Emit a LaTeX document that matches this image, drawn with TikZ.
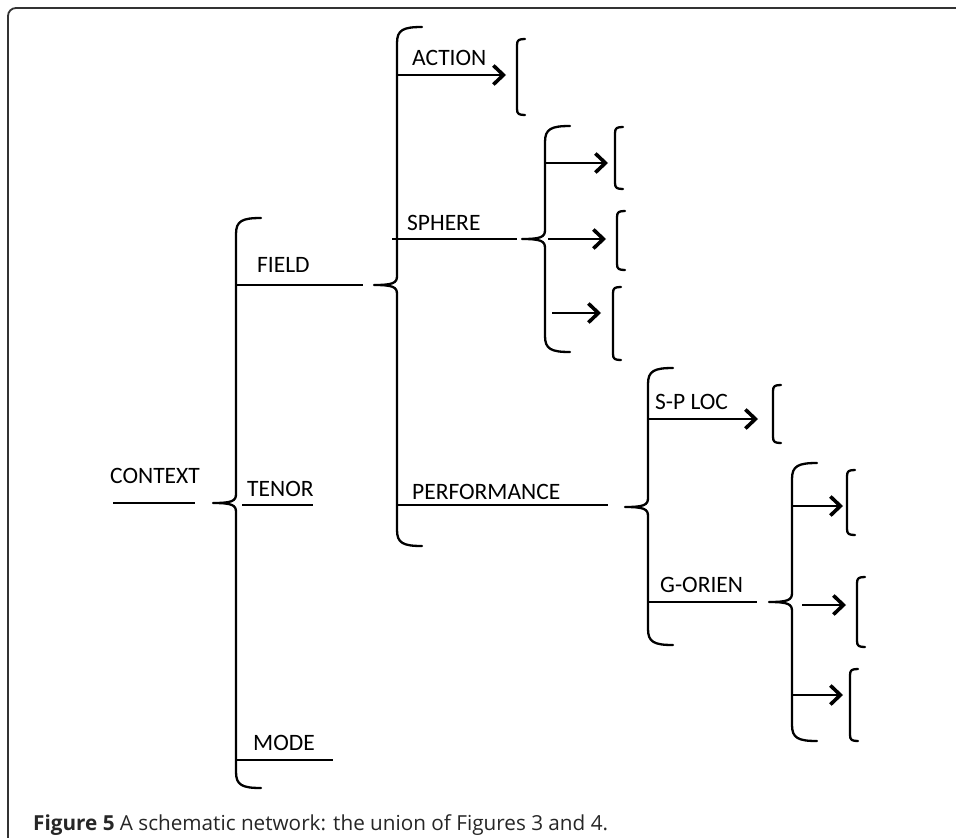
\documentclass[tikz,border=0pt]{standalone}
\usepackage{fontspec}
\setmainfont{Carlito}
\newfontfamily\capfont{Open Sans}
\usepackage{pgf,tikz}
\usetikzlibrary{arrows.meta}
\tikzset{
  brace/.style={line width=2.3pt,line cap=round,line join=round},
  link/.style={line width=2.1pt},
  arr/.style={link,-{Straight Barb[length=10pt,width=19pt,line width=3.6pt]}},
  lbl/.style={anchor=base west,inner sep=0pt,font=\fontsize{23.5}{26}\selectfont},
}
% curly brace: x, top, cusp, bottom
\newcommand{\curlybr}[4]{%
  \draw[brace] (#1+25,#2) .. controls (#1+6,#2) and (#1,#2+3) .. (#1,#2+16)
    -- (#1,#3-9) .. controls (#1,#3-2) and (#1-4,#3) .. (#1-23,#3)
    .. controls (#1-4,#3) and (#1,#3+2) .. (#1,#3+9)
    -- (#1,#4-16) .. controls (#1,#4-3) and (#1+6,#4) .. (#1+25,#4);}
% square bracket: x, top, bottom
\newcommand{\squarebr}[3]{%
  \draw[brace] (#1+8,#2) .. controls (#1+2,#2) and (#1,#2+1) .. (#1,#2+6)
    -- (#1,#3-6) .. controls (#1,#3-1) and (#1+2,#3) .. (#1+8,#3);}

\begin{document}
\begin{tikzpicture}[x=1pt,y=-1pt]
\useasboundingbox (0,0) rectangle (956,838);
\draw[line width=1.8pt,black!80,rounded corners=8pt] (8,850) -- (8,8) -- (970,8);

% context
\coordinate (ctxA) at (113,503);
\coordinate (ctxB) at (195,503);
\draw[link] (ctxA) -- (ctxB);
\node[lbl] (context) at (110,483) {CONTEXT};
\curlybr{236}{218}{503}{788}

\coordinate (fldA) at (236,285);
\coordinate (fldB) at (363,285);
\draw[link] (fldA) -- (fldB);
\node[lbl] (field) at (257,272) {FIELD};

\coordinate (tenA) at (242,505);
\coordinate (tenB) at (313,505);
\draw[link] (tenA) -- (tenB);
\node[lbl] (tenor) at (247,496) {TENOR};

\coordinate (modA) at (236,760);
\coordinate (modB) at (333,760);
\draw[link] (modA) -- (modB);
\node[lbl] (mode) at (253,750) {MODE};

% field
\curlybr{397}{27}{285}{546}
\coordinate (actA) at (397,75);
\coordinate (actB) at (506,75);
\draw[arr] (actA) -- (actB);
\node[lbl] (action) at (412,65) {ACTION};
\squarebr{517}{39}{115}

\coordinate (sphA) at (392,239);
\coordinate (sphB) at (517,239);
\draw[link] (sphA) -- (sphB);
\node[lbl] (sphere) at (407,230) {SPHERE};

\coordinate (perA) at (397,505);
\coordinate (perB) at (608,505);
\draw[link] (perA) -- (perB);
\node[lbl] (performance) at (412,499) {PERFORMANCE};

% sphere
\curlybr{545}{126}{239}{352}
\coordinate (s1A) at (545,163); \coordinate (s1B) at (608,163);
\coordinate (s2A) at (548,239); \coordinate (s2B) at (606,239);
\coordinate (s3A) at (552,313); \coordinate (s3B) at (601,313);
\draw[arr] (s1A) -- (s1B);
\draw[arr] (s2A) -- (s2B);
\draw[arr] (s3A) -- (s3B);
\squarebr{615}{127}{189}
\squarebr{617}{211}{270}
\squarebr{613}{287}{360}

% performance
\curlybr{648}{368}{507}{645}
\coordinate (locA) at (648,419);
\coordinate (locB) at (758,419);
\draw[arr] (locA) -- (locB);
\node[lbl] (sploc) at (655,409) {S-P LOC};
\squarebr{773}{385}{443}

\coordinate (goA) at (648,602);
\coordinate (goB) at (757,602);
\draw[link] (goA) -- (goB);
\node[lbl] (gorien) at (660,592) {G-ORIEN};

% g-orien
\curlybr{792}{463}{602}{741}
\coordinate (g1A) at (792,506); \coordinate (g1B) at (843,506);
\coordinate (g2A) at (802,605); \coordinate (g2B) at (846,605);
\coordinate (g3A) at (792,695); \coordinate (g3B) at (843,695);
\draw[arr] (g1A) -- (g1B);
\draw[arr] (g2A) -- (g2B);
\draw[arr] (g3A) -- (g3B);
\squarebr{847}{470}{535}
\squarebr{857}{577}{647}
\squarebr{850}{669}{741}

\node[anchor=base west,inner sep=0pt,text=black!85,font=\capfont\fontsize{20.7}{24}\selectfont] (caption) at (33,830)
  {\textbf{Figure 5} A schematic network: the union of Figures 3 and 4.};
\end{tikzpicture}
\end{document}
